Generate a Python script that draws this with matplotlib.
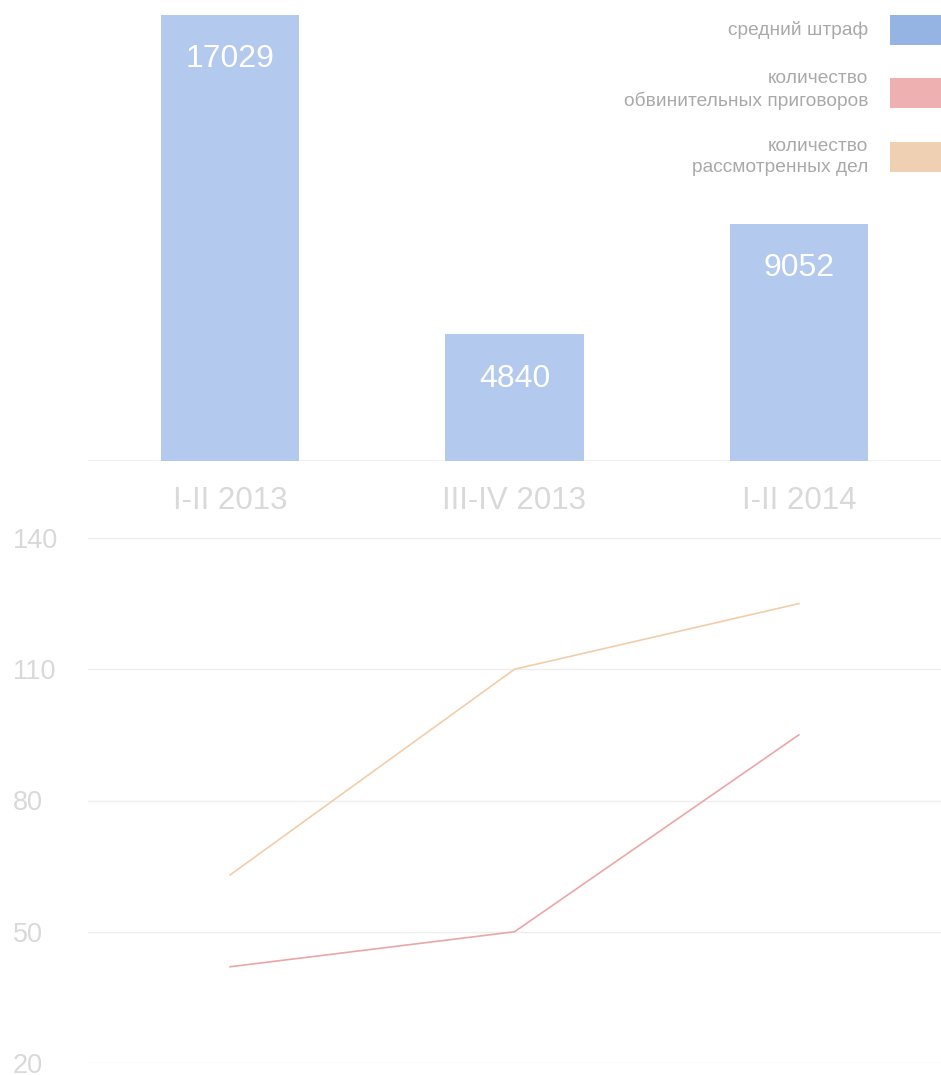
import matplotlib
matplotlib.use("Agg")
import matplotlib.pyplot as plt
from matplotlib.patches import Rectangle

plt.rcParams['font.family'] = ['Liberation Sans', 'DejaVu Sans']

categories = ["I-II 2013", "III-IV 2013", "I-II 2014"]
avg_fine = [17029, 4840, 9052]
convictions = [42, 50, 95]
cases_considered = [63, 110, 125]
line_yticks = [20, 50, 80, 110, 140]
legend_labels = ["средний штраф", "количество\nобвинительных приговоров", "количество\nрассмотренных дел"]

W, H = 941, 1075
DPI = 100
fig = plt.figure(figsize=(W / DPI, H / DPI), dpi=DPI)

def fx(px):
    return px / W

def fy(py):
    return 1 - py / H

bar_color = "#b3c9ee"
legend_colors = ["#95b3e3", "#eeb0b0", "#f0d0b3"]
red_line = "#eca6a6"
orange_line = "#f3cda9"
grid_c = "#eeeeee"
label_c = "#d9d9d9"

# Top bar chart
left_px, right_px = 88, 941
ax1 = fig.add_axes([fx(left_px), fy(461), fx(right_px) - fx(left_px), fy(0) - fy(461)])
x = list(range(len(categories)))
bars = ax1.bar(x, avg_fine, width=0.487, color=bar_color, zorder=2)
ax1.set_xlim(-0.5, 2.5)
ax1.set_ylim(0, 17600)
for s in ax1.spines.values():
    s.set_visible(False)
ax1.axhline(0, color=grid_c, lw=1.2, zorder=1)
ax1.set_yticks([])
ax1.set_xticks(x)
ax1.set_xticklabels(categories, fontsize=22.5, color=label_c)
ax1.tick_params(axis='x', length=0, pad=18)
for xi, v in zip(x, avg_fine):
    ax1.annotate(str(v), (xi, v), xytext=(0, -32), textcoords='offset points',
                 ha='center', va='center', color='white', fontsize=23, zorder=3)

# Legend
rect_y = [(15, 45), (78, 108), (142, 172)]
text_y = [30, 90, 157]
for (y0, y1), ty, col, lab in zip(rect_y, text_y, legend_colors, legend_labels):
    fig.patches.append(Rectangle((fx(890), fy(y1)), fx(941) - fx(890) + 0.01, fy(y0) - fy(y1),
                                 transform=fig.transFigure, facecolor=col, edgecolor='none'))
    fig.text(fx(868), fy(ty), lab, ha='right', va='center', fontsize=13.8,
             color='#a9a9a9', linespacing=1.38, multialignment='right')

# Bottom line chart
ax2 = fig.add_axes([fx(left_px), fy(1063), fx(right_px) - fx(left_px), fy(538) - fy(1063)])
ax2.plot(x, cases_considered, color=orange_line, lw=1.2)
ax2.plot(x, convictions, color=red_line, lw=1.2)
ax2.set_xlim(-0.5, 2.5)
ax2.set_ylim(20, 140)
ax2.set_yticks(line_yticks)
ax2.set_yticklabels([str(t) for t in line_yticks], fontsize=19.5, color=label_c, ha='left')
ax2.tick_params(axis='y', length=0, pad=54)
ax2.set_xticks([])
for s in ax2.spines.values():
    s.set_visible(False)
ax2.grid(axis='y', color=grid_c, lw=1)
ax2.set_axisbelow(True)

fig.savefig("out.png", dpi=DPI, facecolor='white')
